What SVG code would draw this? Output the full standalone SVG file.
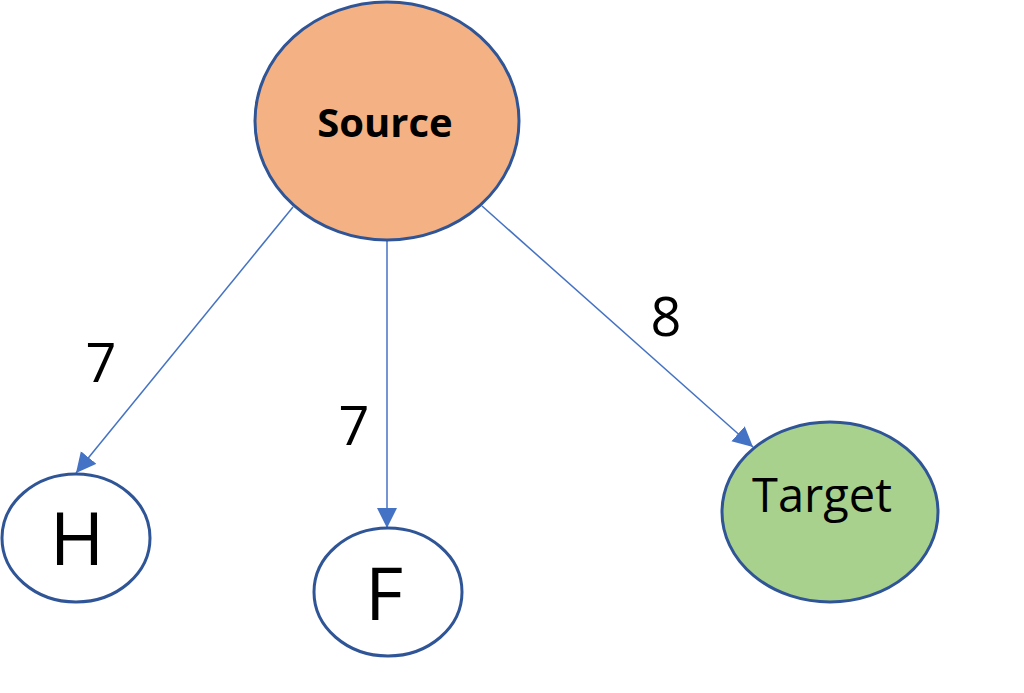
<svg xmlns="http://www.w3.org/2000/svg" width="1024" height="693" viewBox="0 0 1024 693">
<style>
.node{stroke:#2F5597;stroke-width:3}
.edge{stroke:#4472C4;stroke-width:1.5;fill:none;marker-end:url(#arr)}
text{font-family:"Open Sans","Liberation Sans",sans-serif;fill:#000;text-anchor:middle}
.lbl{font-size:54px}
</style>
<defs>
<marker id="arr" markerUnits="userSpaceOnUse" markerWidth="22" markerHeight="22" refX="20" refY="10" orient="auto">
<path d="M0,0 L20,10 L0,20 z" fill="#4472C4"/>
</marker>
</defs>
<rect width="1024" height="693" fill="#fff"/>
<g id="connectors">
<line class="edge" x1="293" y1="207" x2="76" y2="473"/>
<line class="edge" x1="387" y1="241" x2="387" y2="528"/>
<line class="edge" x1="482" y1="206" x2="753" y2="447"/>
<text class="lbl" x="101" y="382">7</text>
<text class="lbl" x="354" y="445">7</text>
<text class="lbl" x="666" y="336">8</text>
</g>
<g id="source">
<ellipse class="node" cx="387" cy="121" rx="132" ry="119" fill="#F4B183"/>
<text x="385" y="137" font-size="40" font-weight="bold">Source</text>
</g>
<g id="H">
<ellipse class="node" cx="76" cy="538" rx="74" ry="64" fill="#fff"/>
<text x="77" y="565" font-size="74">H</text>
</g>
<g id="F">
<ellipse class="node" cx="388" cy="592" rx="74" ry="64" fill="#fff"/>
<text x="384" y="620" font-size="74">F</text>
</g>
<g id="target">
<ellipse class="node" cx="830" cy="512" rx="108" ry="90" fill="#A9D18E"/>
<text x="822" y="512" font-size="47">Target</text>
</g>
</svg>
